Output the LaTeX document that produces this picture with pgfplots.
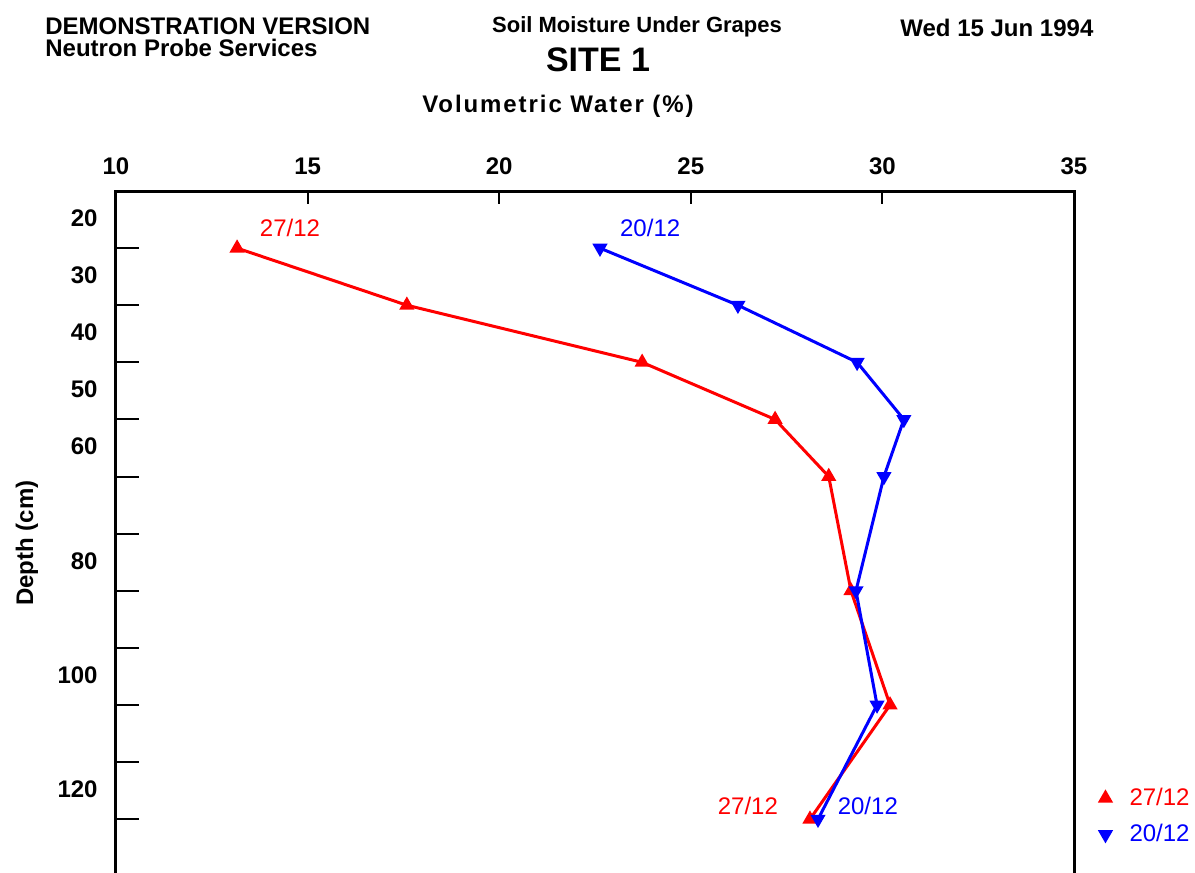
\documentclass[border=0pt]{standalone}
\usepackage{fontspec}
\setmainfont{Liberation Sans}
\usepackage{pgfplots}
\pgfplotsset{compat=1.18}
\definecolor{pred}{RGB}{255,0,0}
\definecolor{pblue}{RGB}{0,0,255}
\pgfplotstableread{
vol depth
13.16 20
17.59 30
23.73 40
27.20 50
28.60 60
29.18 80
30.20 100
28.11 120
}\dataA
\pgfplotstableread{
vol depth
22.63 20
26.23 30
29.34 40
30.56 50
30.04 60
29.31 80
29.86 100
28.32 120
}\dataB
\begin{document}
\begin{tikzpicture}
\path[use as bounding box] (0,0) rectangle (597.5pt,-436.5pt);
\node[anchor=west,inner sep=0pt,font=\bfseries\fontsize{12}{13}\selectfont] at (22.5pt,-13pt) {DEMONSTRATION VERSION};
\node[anchor=west,inner sep=0pt,font=\bfseries\fontsize{12}{13}\selectfont] at (22.5pt,-24pt) {Neutron Probe Services};
\node[inner sep=0pt,font=\bfseries\fontsize{11}{12}\selectfont] at (318.5pt,-13.5pt) {Soil Moisture Under Grapes};
\node[inner sep=0pt,font=\bfseries\fontsize{17}{18}\selectfont] at (299pt,-30pt) {SITE 1};
\node[anchor=west,inner sep=0pt,font=\bfseries\fontsize{12}{13}\selectfont] at (450pt,-14pt) {Wed 15 Jun 1994};
\node[inner sep=0pt,font=\bfseries\fontsize{12}{13}\selectfont\addfontfeature{LetterSpace=8}] at (279pt,-53pt) {Volumetric Water (\%)};
\node[inner sep=0pt,rotate=90,font=\bfseries\fontsize{12}{13}\selectfont] at (13.5pt,-271.5pt) {Depth (cm)};
\begin{axis}[
  at={(58pt,-95.5pt)}, anchor=north west,
  scale only axis, width=479pt, height=345.5pt,
  xmin=10, xmax=35, ymin=10, ymax=131, y dir=reverse,
  axis line style={line width=1.5pt},
  xtick={10,15,...,35}, ytick={20,30,...,120},
  yticklabels={20,30,40,50,60,,80,,100,,120},
  xtick pos=right, xticklabel pos=right,
  ytick pos=left, yticklabel pos=left,
  tick align=inside,
  major tick length=11.5pt,
  tick style={line width=1pt, black},
  xtick style={/pgfplots/major tick length=6.5pt},
  /pgf/number format/assume math mode=true,
  tick label style={font=\bfseries\fontsize{12}{13}\selectfont},
  xticklabel style={anchor=south, inner sep=0pt, yshift=8pt},
  yticklabel style={anchor=east, inner sep=0pt, xshift=-9pt, yshift=15pt},
  clip=false,
  legend style={at={(1.0272,0.095)}, anchor=west, draw=none, fill=none,
    font=\fontsize{12}{13}\selectfont, row sep=4pt, inner sep=0pt,
    /tikz/every odd column/.append style={column sep=7.5pt}},
  legend cell align=left,
  legend image code/.code={\draw[#1] plot[only marks] coordinates {(0.1cm,0cm)};},
]
\addplot[pred, line width=1.5pt, mark=triangle*, mark size=2.9pt, mark options={solid, fill=pred}] table[x=vol,y=depth] {\dataA};
\addlegendentry{\textcolor{pred}{27/12}}
\addplot[pblue, line width=1.5pt, mark=triangle*, mark size=2.9pt, mark options={solid, fill=pblue, rotate=180}] table[x=vol,y=depth] {\dataB};
\addlegendentry{\textcolor{pblue}{20/12}}
\node[pred, font=\fontsize{12}{13}\selectfont] at (axis cs:14.54,16.5) {27/12};
\node[pblue, font=\fontsize{12}{13}\selectfont] at (axis cs:23.94,16.5) {20/12};
\node[pred, font=\fontsize{12}{13}\selectfont] at (axis cs:26.49,117.7) {27/12};
\node[pblue, font=\fontsize{12}{13}\selectfont] at (axis cs:29.62,117.7) {20/12};
\end{axis}
\end{tikzpicture}
\end{document}
